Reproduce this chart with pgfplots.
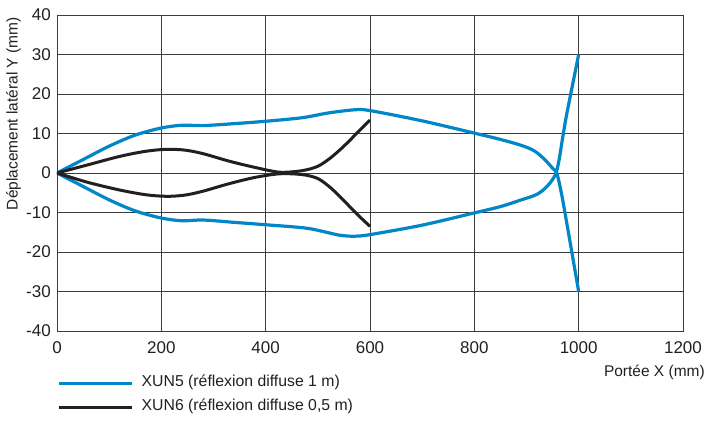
\documentclass[border=0pt]{standalone}
\usepackage{pgfplots}
\pgfplotsset{compat=1.18}
\usepackage{fontspec}
\setmainfont{Liberation Sans}
\definecolor{xblue}{RGB}{0,134,201}
\definecolor{xblack}{RGB}{35,31,32}
\definecolor{gridc}{RGB}{60,60,60}
\begin{document}
\begin{tikzpicture}
\path[use as bounding box] (-57pt,-90pt) rectangle (650pt,331pt);
\begin{axis}[
  scale only axis,
  width=626pt, height=316pt,
  at={(0pt,0pt)}, anchor=south west,
  xmin=0, xmax=1200, ymin=-40, ymax=40,
  xtick={0,200,400,600,800,1000,1200},
  xticklabels={0,200,400,600,800,1000,1200},
  ytick={-40,-30,-20,-10,0,10,20,30,40},
  yticklabels={-40,-30,-20,-10,0,10,20,30,40},
  major tick length=0pt,
  grid=major,
  grid style={gridc, line width=0.9pt},
  axis line style={gridc, line width=0.9pt},
  tick label style={font=\fontsize{17}{20}\selectfont, text=xblack},
  xticklabel style={inner sep=0pt, yshift=-10.5pt, anchor=north},
  yticklabel style={inner sep=0pt, xshift=-6pt, anchor=east},
  xlabel={Portée X (mm)},
  ylabel={Déplacement latéral Y (mm)},
  label style={font=\fontsize{15.5}{18}\selectfont, text=xblack, inner sep=0pt},
  xlabel style={at={(axis description cs:1.0351,-0.1297)}, anchor=east},
  ylabel style={at={(axis description cs:-0.0695,0.9937)}, anchor=east, rotate=0},
  legend style={at={(axis description cs:0,-0.142)}, anchor=north west,
    draw=none, fill=none, inner sep=0pt, outer sep=0pt,
    font=\fontsize{15.8}{18}\selectfont, text=xblack,
    nodes={inner sep=0pt, text height=11pt, text depth=3.5pt},
    row sep=9.5pt, column sep=0pt,
    legend cell align=left},
  legend image code/.code={\draw[#1] (0pt,0pt) -- (73pt,0pt);},
]
\addplot[xblue, line width=3.2pt, smooth, tension=0.5] coordinates {
(0,0) (50,3.4) (100,6.8) (150,9.6) (200,11.4) (240,12.1) (280,12.0) (340,12.5)
(400,13.1) (470,14.0) (520,15.2) (570,16.0) (600,15.8) (700,13.2) (800,10.1)
(850,8.5) (890,7.0) (915,5.6) (935,3.4) (950,1.2) (958,0) (966,-4.5)
(975,-11) (1000,-30)};
\addlegendentry{\hspace{8.5pt}XUN5 (réflexion diffuse 1 m)}
\addplot[xblack, line width=3.0pt, smooth, tension=0.5] coordinates {
(0,0) (60,2.1) (120,4.2) (170,5.5) (210,6.0) (245,5.8) (280,4.9) (330,3.0)
(380,1.4) (427,0.2) (470,0.6) (500,1.7) (525,3.9) (550,6.8) (575,10.1) (600,13.4)};
\addlegendentry{\hspace{8.5pt}XUN6 (réflexion diffuse 0,5 m)}
\addplot[xblue, line width=3.2pt, smooth, tension=0.5, forget plot] coordinates {
(0,0) (50,-3.4) (100,-6.8) (150,-9.6) (200,-11.4) (240,-12.1) (280,-11.9) (340,-12.5)
(400,-13.1) (480,-14.0) (540,-15.7) (570,-16.0) (600,-15.6) (700,-13.2) (800,-10.1)
(850,-8.5) (890,-6.8) (920,-5.4) (940,-3.3) (955,-0.5) (962,3) (970,9.5)
(978,15.5) (1000,30)};
\addplot[xblack, line width=3.0pt, smooth, tension=0.5, forget plot] coordinates {
(0,0) (60,-2.4) (120,-4.3) (170,-5.5) (210,-5.9) (245,-5.6) (280,-4.6) (330,-2.7)
(380,-1.1) (427,-0.2) (470,-0.4) (500,-1.4) (525,-3.8) (550,-7.0) (575,-10.4) (600,-13.5)};
\end{axis}
\end{tikzpicture}
\end{document}
